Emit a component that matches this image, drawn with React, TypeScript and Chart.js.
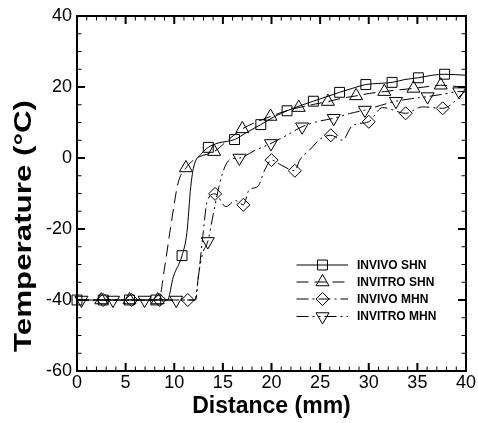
import React, { useEffect, useRef } from 'react';
import { Chart, registerables } from 'chart.js';

Chart.register(...registerables);

// ---------- data ----------
const X_TICK_LABELS = [0, 5, 10, 15, 20, 25, 30, 35, 40];
const Y_TICK_LABELS = [-60, -40, -20, 0, 20, 40];

const SERIES_NAMES = ['INVIVO SHN', 'INVITRO SHN', 'INVIVO MHN', 'INVITRO MHN'];

// INVIVO SHN (squares, solid)
const invivoShnMarkX = [0, 2.7, 5.4, 8.1, 10.8, 13.5, 16.2, 18.9, 21.6, 24.3, 27.0, 29.7, 32.4, 35.1, 37.8];
const invivoShnMarkY = [-40, -40, -40, -40, -27.5, 3.0, 5.2, 9.4, 13.3, 16.0, 18.5, 20.7, 21.3, 22.6, 23.6];
const invivoShnLineX = [0, 9.3, 9.9, 10.8, 11.3, 11.7, 12.0, 12.8, 13.5, 14.5, 16.2, 17.5, 18.9, 20.2, 21.6, 23.0, 24.3, 25.6, 27.0, 28.3, 29.7, 31.0, 32.4, 33.7, 35.1, 36.5, 37.8, 40];
const invivoShnLineY = [-40, -40, -33.5, -27.5, -21, -8, -2.5, 1.2, 3.0, 4.2, 5.2, 7.3, 9.4, 11.5, 13.3, 14.8, 16.0, 17.2, 18.5, 19.6, 20.7, 21.0, 21.3, 22.1, 22.6, 23.3, 23.6, 23.3];

// INVITRO SHN (triangles up, dashed)
const invitroShnMarkX = [2.5, 5.4, 8.3, 11.2, 14.1, 17.0, 19.9, 22.8, 25.8, 28.7, 31.6, 34.6, 37.4];
const invitroShnMarkY = [-40, -40, -40, -2.8, 1.8, 8.2, 11.7, 14.2, 15.9, 17.5, 18.7, 19.6, 20.5];
const invitroShnLineX = [0, 8.4, 9.0, 9.6, 10.4, 11.2, 12.3, 13.3, 14.1, 15.5, 17.0, 18.5, 19.9, 21.3, 22.8, 24.3, 25.8, 27.2, 28.7, 30.1, 31.6, 33.1, 34.6, 36.0, 37.4, 40];
const invitroShnLineY = [-40, -40, -31, -20, -7, -2.8, 0, 1.0, 1.8, 5.0, 8.2, 10.2, 11.7, 13.1, 14.2, 15.1, 15.9, 16.8, 17.5, 18.2, 18.7, 19.2, 19.6, 20.1, 20.5, 19.8];

// INVIVO MHN (diamonds, dash-dot)
const invivoMhnMarkX = [2.7, 5.6, 8.5, 11.4, 14.2, 17.1, 20.0, 22.4, 26.1, 30.0, 33.8, 37.6];
const invivoMhnMarkY = [-40, -40, -40, -40, -10.1, -13.2, -0.6, -3.6, 6.4, 10.2, 12.6, 14.0];
const invivoMhnLineX = [0, 12.1, 12.5, 12.9, 13.4, 14.2, 15.3, 16.3, 17.1, 17.7, 18.6, 19.3, 20.0, 21.0, 22.4, 22.9, 23.9, 25.1, 26.1, 27.3, 28.2, 29.0, 30.0, 31.4, 33.8, 35.5, 37.6, 40];
const invivoMhnLineY = [-40, -40, -33, -23, -12, -10.1, -13.7, -12, -13.2, -9, -8, -3.4, -0.6, -2, -3.6, -0.6, 2.2, 5.5, 6.4, 5.0, 8.8, 9.7, 10.2, 14.2, 12.6, 14.4, 14.0, 19.0];

// INVITRO MHN (triangles down, dash-dot-dot)
const invitroMhnMarkX = [0.45, 3.7, 6.95, 10.2, 13.45, 16.7, 19.95, 23.15, 26.4, 29.6, 32.8, 36.05, 39.3];
const invitroMhnMarkY = [-40, -40, -40, -40, -23.5, 0, 4.1, 8.8, 11.2, 13.5, 16.0, 17.3, 18.7];
const invitroMhnLineX = [0, 12.2, 12.5, 12.9, 13.45, 14.0, 14.6, 15.2, 15.9, 16.7, 18.2, 19.95, 21.5, 23.15, 24.8, 26.4, 28.0, 29.6, 31.2, 32.8, 34.4, 36.05, 37.7, 39.3, 40];
const invitroMhnLineY = [-40, -40, -33, -27, -23.5, -16, -8, -2.5, -0.2, 0, 2.0, 4.1, 6.3, 8.8, 10.3, 11.2, 12.5, 13.5, 14.8, 16.0, 16.7, 17.3, 18.0, 18.7, 18.7];

// ---------- styles ----------
const FONT = '"Liberation Sans", Arial, Helvetica, sans-serif';
const DASHES = [[], [12, 6], [12, 4, 2, 4], [12, 4, 2, 4, 2, 4]];
const MARKERS: { style: any; rotation: number; radius: number }[] = [
  { style: 'rect', rotation: 0, radius: 7 },
  { style: 'triangle', rotation: 0, radius: 7.5 },
  { style: 'rectRot', rotation: 0, radius: 6.5 },
  { style: 'triangle', rotation: 180, radius: 7.5 },
];

const zip = (xs: number[], ys: number[]) => xs.map((x, i) => ({ x, y: ys[i] }));

const LINES = [
  zip(invivoShnLineX, invivoShnLineY),
  zip(invitroShnLineX, invitroShnLineY),
  zip(invivoMhnLineX, invivoMhnLineY),
  zip(invitroMhnLineX, invitroMhnLineY),
];
const MARKS = [
  zip(invivoShnMarkX, invivoShnMarkY),
  zip(invitroShnMarkX, invitroShnMarkY),
  zip(invivoMhnMarkX, invivoMhnMarkY),
  zip(invitroMhnMarkX, invitroMhnMarkY),
];

function drawMarker(ctx: CanvasRenderingContext2D, kind: number, x: number, y: number) {
  const m = MARKERS[kind];
  const r = m.radius;
  ctx.beginPath();
  if (m.style === 'rect') {
    const s = Math.SQRT1_2 * r;
    ctx.rect(x - s, y - s, 2 * s, 2 * s);
  } else if (m.style === 'rectRot') {
    ctx.moveTo(x - r, y);
    ctx.lineTo(x, y - r);
    ctx.lineTo(x + r, y);
    ctx.lineTo(x, y + r);
    ctx.closePath();
  } else {
    let rad = (m.rotation * Math.PI) / 180;
    ctx.moveTo(x + Math.sin(rad) * r, y - Math.cos(rad) * r);
    rad += (2 * Math.PI) / 3;
    ctx.lineTo(x + Math.sin(rad) * r, y - Math.cos(rad) * r);
    rad += (2 * Math.PI) / 3;
    ctx.lineTo(x + Math.sin(rad) * r, y - Math.cos(rad) * r);
    ctx.closePath();
  }
  ctx.stroke();
}

const framePlugin = {
  id: 'frameTicks',
  afterDatasetsDraw(chart: any) {
    const { ctx, chartArea, scales } = chart;
    const { left, right, top, bottom } = chartArea;
    const xs = scales.x;
    const ys = scales.y;
    ctx.save();
    ctx.strokeStyle = '#000';
    ctx.setLineDash([]);
    for (let v = 0; v <= 40; v += 1) {
      const major = v % 5 === 0;
      const px = xs.getPixelForValue(v);
      const len = major ? 8 : 4.5;
      ctx.lineWidth = major ? 2 : 1;
      ctx.beginPath();
      ctx.moveTo(px, bottom);
      ctx.lineTo(px, bottom - len);
      ctx.moveTo(px, top);
      ctx.lineTo(px, top + len);
      ctx.stroke();
    }
    for (let v = -60; v <= 40; v += 5) {
      const major = v % 20 === 0;
      const py = ys.getPixelForValue(v);
      const len = major ? 8 : 4.5;
      ctx.lineWidth = major ? 2 : 1;
      ctx.beginPath();
      ctx.moveTo(left, py);
      ctx.lineTo(left + len, py);
      ctx.moveTo(right, py);
      ctx.lineTo(right - len, py);
      ctx.stroke();
    }
    ctx.lineWidth = 2;
    ctx.strokeRect(left, top, right - left, bottom - top);

    // y-axis title
    ctx.save();
    ctx.fillStyle = '#000';
    ctx.font = `bold 24px ${FONT}`;
    ctx.textAlign = 'center';
    ctx.textBaseline = 'middle';
    const text = 'Temperature (°C)';
    const w = ctx.measureText(text).width;
    const target = 252;
    ctx.translate(24, 226);
    ctx.rotate(-Math.PI / 2);
    ctx.scale(target / w, 1);
    ctx.fillText(text, 0, 0);
    ctx.restore();

    // legend
    const lx0 = left + 219.5;
    const lx1 = left + 271;
    const lxm = left + 245.5;
    const ltx = left + 280;
    const rowY = [265, 282, 299, 316.5];
    ctx.font = `bold 12px ${FONT}`;
    ctx.textAlign = 'left';
    ctx.textBaseline = 'middle';
    ctx.fillStyle = '#000';
    SERIES_NAMES.forEach((name, i) => {
      const yy = rowY[i];
      ctx.lineWidth = 1;
      ctx.setLineDash(DASHES[i]);
      ctx.beginPath();
      ctx.moveTo(lx0, yy);
      ctx.lineTo(lx1, yy);
      ctx.stroke();
      ctx.setLineDash([]);
      drawMarker(ctx, i, lxm, yy);
      ctx.fillText(name, ltx, yy + 0.5);
    });
    ctx.restore();
  },
};

export default function App() {
  const ref = useRef<HTMLCanvasElement | null>(null);
  useEffect(() => {
    document.body.style.margin = '0';
    const canvas = ref.current;
    if (!canvas) return;
    const datasets: any[] = [];
    MARKS.forEach((pts, i) => {
      datasets.push({
        label: SERIES_NAMES[i] + ' markers',
        data: pts,
        showLine: false,
        pointStyle: MARKERS[i].style,
        rotation: MARKERS[i].rotation,
        pointRadius: MARKERS[i].radius,
        pointBackgroundColor: 'rgba(0,0,0,0)',
        pointBorderColor: '#000',
        pointBorderWidth: 1,
        clip: false,
      });
    });
    LINES.forEach((pts, i) => {
      datasets.push({
        label: SERIES_NAMES[i],
        data: pts,
        showLine: true,
        pointRadius: 0,
        borderColor: '#000',
        borderWidth: 1,
        borderDash: DASHES[i],
        cubicInterpolationMode: 'monotone',
        fill: false,
      });
    });
    const chart = new Chart(canvas, {
      type: 'scatter',
      data: { datasets },
      options: {
        responsive: false,
        animation: false,
        devicePixelRatio: 1,
        layout: { padding: { top: 16, right: 12, left: 0, bottom: 0 } },
        plugins: { legend: { display: false }, tooltip: { enabled: false } },
        scales: {
          x: {
            type: 'linear',
            min: X_TICK_LABELS[0],
            max: X_TICK_LABELS[X_TICK_LABELS.length - 1],
            afterBuildTicks: (s: any) => {
              s.ticks = X_TICK_LABELS.map((v) => ({ value: v }));
            },
            afterFit: (s: any) => {
              s.height = 52;
            },
            ticks: { color: '#000', font: { family: FONT, size: 18 }, padding: 1, maxRotation: 0, autoSkip: false },
            grid: { display: false, drawTicks: false },
            border: { display: false },
            title: {
              display: true,
              text: 'Distance (mm)',
              color: '#000',
              font: { family: FONT, size: 23, weight: 'bold' },
              padding: { top: 0, bottom: 3 },
            },
          },
          y: {
            type: 'linear',
            min: Y_TICK_LABELS[0],
            max: Y_TICK_LABELS[Y_TICK_LABELS.length - 1],
            afterBuildTicks: (s: any) => {
              s.ticks = Y_TICK_LABELS.map((v) => ({ value: v }));
            },
            afterFit: (s: any) => {
              s.width = 77;
            },
            ticks: { color: '#000', font: { family: FONT, size: 18 }, padding: 5, autoSkip: false },
            grid: { display: false, drawTicks: false },
            border: { display: false },
          },
        },
      },
      plugins: [framePlugin],
    });
    return () => chart.destroy();
  }, []);
  return <canvas ref={ref} width={478} height={423} style={{ display: 'block' }} />;
}
